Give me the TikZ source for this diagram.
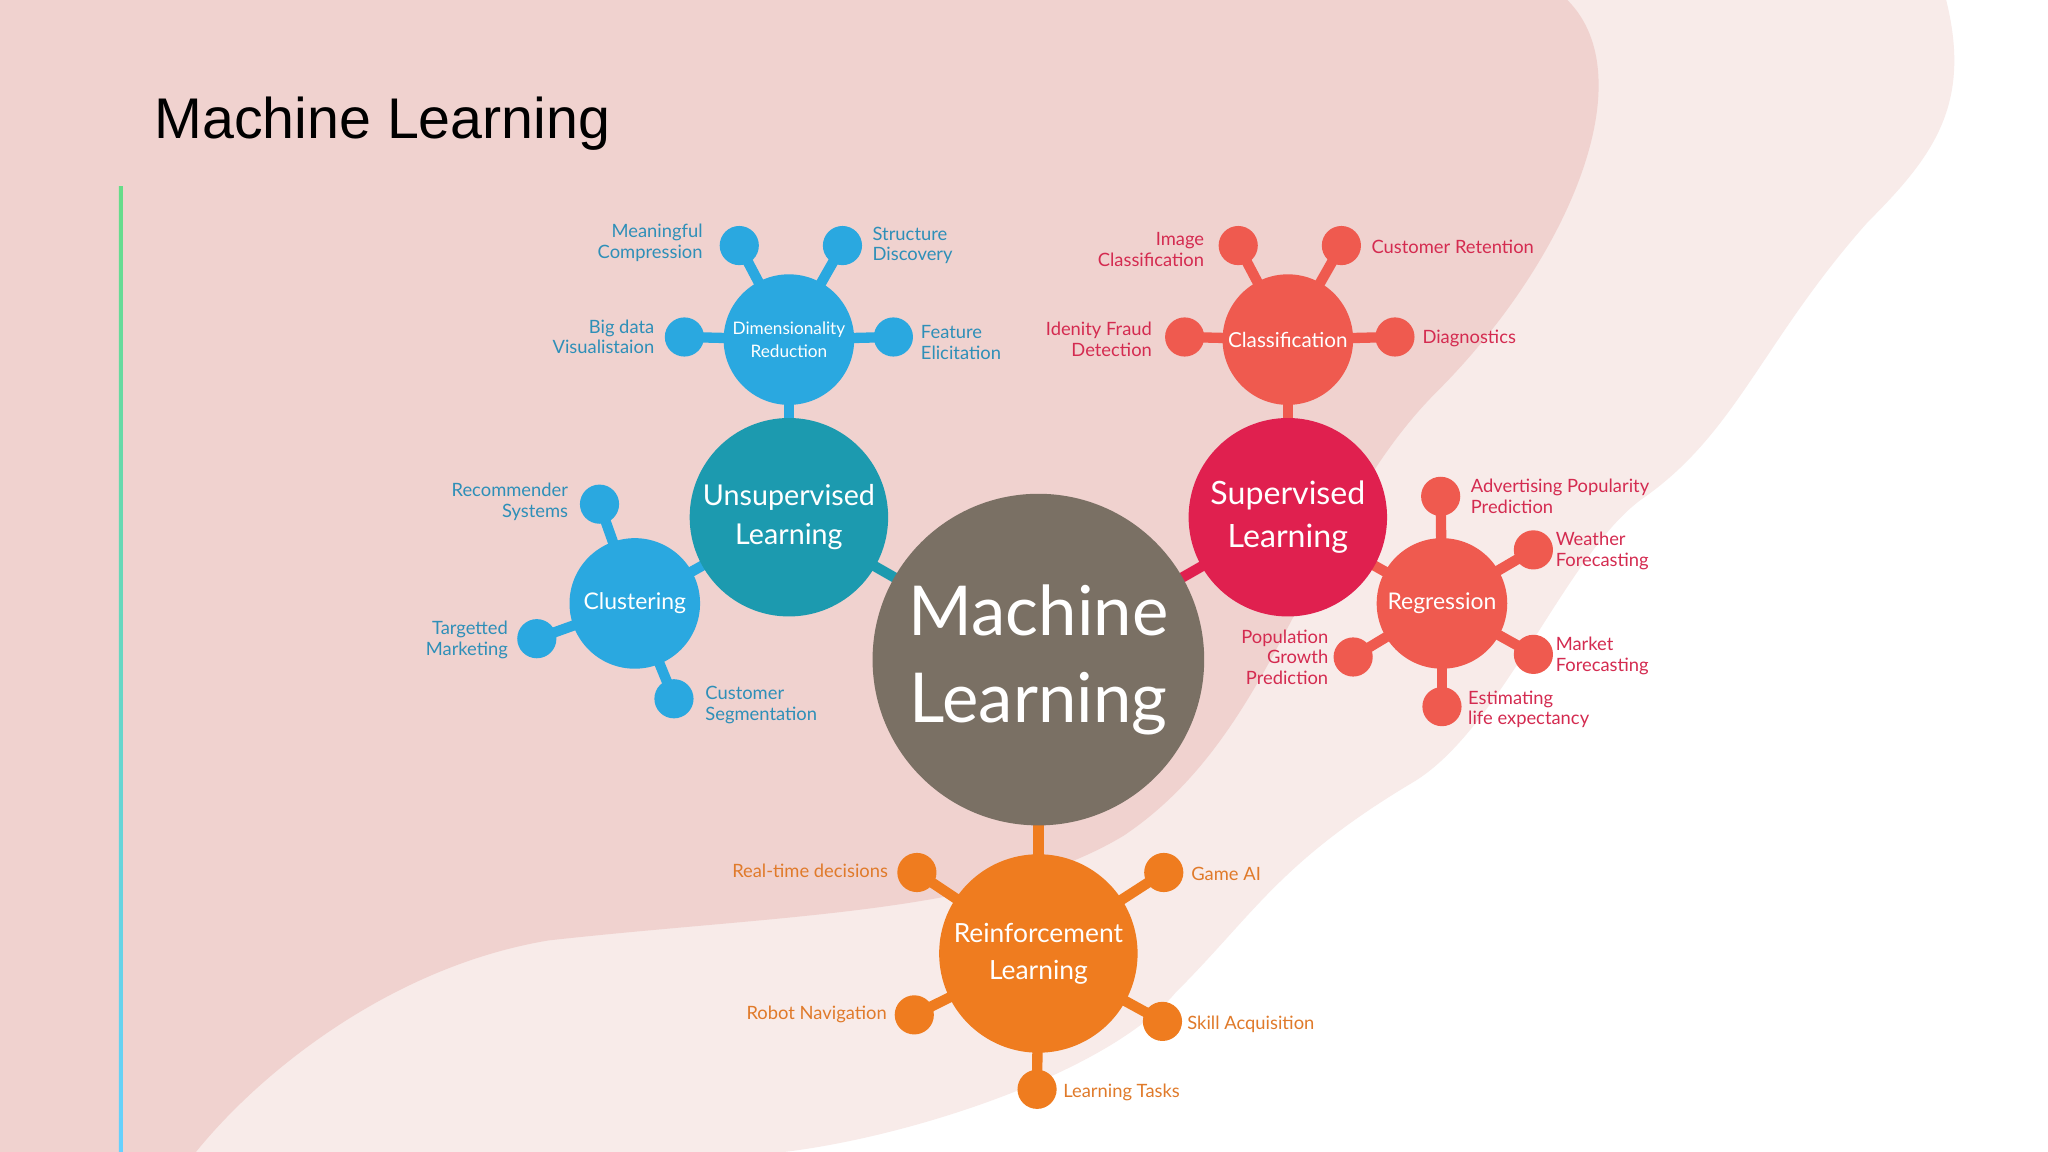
\documentclass[tikz,border=0pt]{standalone}
\usepackage{fontspec}
\setmainfont{Lato}
\newfontfamily\titlefont{Liberation Sans}
\usetikzlibrary{backgrounds}
\definecolor{mlgray}{HTML}{7A7064}
\definecolor{uteal}{HTML}{1C9AAF}
\definecolor{scrim}{HTML}{E0204F}
\definecolor{rorange}{HTML}{EF7C1F}
\definecolor{lblue}{HTML}{2AA8E0}
\definecolor{coral}{HTML}{EF5A4F}
\definecolor{bgpink}{HTML}{F0D2CF}
\definecolor{tblue}{HTML}{2E8FB8}
\definecolor{tred}{HTML}{D42B50}
\definecolor{torange}{HTML}{E07A2A}
\begin{document}
\begin{tikzpicture}[x=0.02cm,y=-0.02cm,
 bub/.style={circle,inner sep=0pt,minimum size=#1*0.04cm,text=white,align=center},
 leaf/.style={circle,fill=#1,inner sep=0pt,minimum size=0.6cm},
 lab/.style={font=\fontsize{8}{9}\selectfont,align=#1,inner sep=1pt},
 con/.style={line width=4.5pt,draw=#1}]
\useasboundingbox (0,0) rectangle (1568,882);
\begin{scope}[on background layer]
\fill[white] (0,0) rectangle (1568,882);
\fill[bgpink!45] (0,0) -- (1490,0) .. controls (1510,80) and (1480,120) .. (1430,170)
 .. controls (1350,260) and (1330,330) .. (1260,380) .. controls (1200,420) and (1150,560) .. (1080,600)
 .. controls (980,660) and (960,700) .. (900,760) .. controls (850,820) and (700,870) .. (600,882) -- (0,882) -- cycle;
\fill[bgpink] (0,0) -- (1200,0) .. controls (1260,60) and (1200,200) .. (1100,300)
 .. controls (1000,400) and (980,560) .. (860,640) .. controls (760,700) and (600,700) .. (420,720)
 .. controls (300,740) and (200,820) .. (150,882) -- (0,882) -- cycle;
\shade[top color=teal!45!green!60, bottom color=blue!30!cyan!60] (91,143) rectangle (94,882);
\end{scope}
\node[anchor=west,font=\titlefont\fontsize{25}{28}\selectfont] (title) at (112,95) {Machine Learning};

\node[bub=127,fill=mlgray,font=\fontsize{30}{38}\selectfont] (ml) at (795,505) {Machine\\Learning};
\node[bub=76,fill=uteal,font=\fontsize{12.5}{17}\selectfont] (un) at (604,396) {Unsupervised\\Learning};
\node[bub=76,fill=scrim,font=\fontsize{14}{19}\selectfont] (su) at (986,396) {Supervised\\Learning};
\node[bub=76,fill=rorange,font=\fontsize{11.5}{16}\selectfont] (re) at (795,730) {Reinforcement\\Learning};
\node[bub=50,fill=lblue,font=\fontsize{7.5}{10}\selectfont] (dr) at (604,260) {Dimensionality\\Reduction};
\node[bub=50,fill=lblue,font=\fontsize{10}{12}\selectfont] (cl) at (486,462) {Clustering};
\node[bub=50,fill=coral,font=\fontsize{9}{12}\selectfont] (cf) at (986,260) {Classification};
\node[bub=50,fill=coral,font=\fontsize{10}{12}\selectfont] (rg) at (1104,462) {Regression};

\node[leaf=lblue] (d1) at (566,188) {};
\node[leaf=lblue] (d2) at (645,188) {};
\node[leaf=lblue] (d3) at (524,258) {};
\node[leaf=lblue] (d4) at (684,258) {};
\node[leaf=lblue] (c1) at (459,386) {};
\node[leaf=lblue] (c2) at (411,489) {};
\node[leaf=lblue] (c3) at (516,535) {};
\node[leaf=coral] (k1) at (948,188) {};
\node[leaf=coral] (k2) at (1027,188) {};
\node[leaf=coral] (k3) at (907,258) {};
\node[leaf=coral] (k4) at (1068,258) {};
\node[leaf=coral] (r1) at (1103,380) {};
\node[leaf=coral] (r2) at (1174,421) {};
\node[leaf=coral] (r3) at (1036,503) {};
\node[leaf=coral] (r4) at (1174,501) {};
\node[leaf=coral] (r5) at (1104,541) {};
\node[leaf=rorange] (o1) at (702,668) {};
\node[leaf=rorange] (o2) at (891,668) {};
\node[leaf=rorange] (o3) at (700,777) {};
\node[leaf=rorange] (o4) at (890,782) {};
\node[leaf=rorange] (o5) at (794,834) {};

\begin{scope}[on background layer]
\draw[con=uteal] (ml.center) -- (un.center);
\draw[con=scrim] (ml.center) -- (su.center);
\draw[con=rorange] (ml.center) -- (re.center);
\draw[con=lblue] (un.center) -- (dr.center);
\draw[con=lblue] (un.center) -- (cl.center);
\draw[con=coral] (su.center) -- (cf.center);
\draw[con=coral] (su.center) -- (rg.center);
\foreach \l in {d1,d2,d3,d4} \draw[con=lblue] (dr.center) -- (\l.center);
\foreach \l in {c1,c2,c3} \draw[con=lblue] (cl.center) -- (\l.center);
\foreach \l in {k1,k2,k3,k4} \draw[con=coral] (cf.center) -- (\l.center);
\foreach \l in {r1,r2,r3,r4,r5} \draw[con=coral] (rg.center) -- (\l.center);
\foreach \l in {o1,o2,o3,o4,o5} \draw[con=rorange] (re.center) -- (\l.center);
\end{scope}

\begin{scope}[text=tblue]
\node[lab=right,anchor=east] (t1) at (540,186) {Meaningful\\Compression};
\node[lab=left,anchor=west] (t2) at (666,188) {Structure\\Discovery};
\node[lab=right,anchor=east] (t3) at (503,258) {Big data\\Visualistaion};
\node[lab=left,anchor=west] (t4) at (703,262) {Feature\\Elicitation};
\node[lab=right,anchor=east] (t5) at (437,384) {Recommender\\Systems};
\node[lab=right,anchor=east] (t6) at (391,490) {Targetted\\Marketing};
\node[lab=left,anchor=west] (t7) at (538,540) {Customer\\Segmentation};
\end{scope}
\begin{scope}[text=tred]
\node[lab=right,anchor=east] (u1) at (924,191) {Image\\Classification};
\node[lab=left,anchor=west] (u2) at (1048,189) {Customer Retention};
\node[lab=right,anchor=east] (u3) at (884,260) {Idenity Fraud\\Detection};
\node[lab=left,anchor=west] (u4) at (1087,259) {Diagnostics};
\node[lab=left,anchor=west] (u5) at (1124,380) {Advertising Popularity\\Prediction};
\node[lab=left,anchor=west] (u6) at (1189,422) {Weather\\Forecasting};
\node[lab=right,anchor=east] (u7) at (1019,503) {Population\\Growth\\Prediction};
\node[lab=left,anchor=west] (u8) at (1189,502) {Market\\Forecasting};
\node[lab=left,anchor=west] (u9) at (1122,543) {Estimating\\life expectancy};
\end{scope}
\begin{scope}[text=torange]
\node[lab=right,anchor=east] (v1) at (682,667) {Real-time decisions};
\node[lab=left,anchor=west] (v2) at (910,669) {Game AI};
\node[lab=right,anchor=east] (v3) at (681,777) {Robot Navigation};
\node[lab=left,anchor=west] (v4) at (907,784) {Skill Acquisition};
\node[lab=left,anchor=west] (v5) at (812,836) {Learning Tasks};
\end{scope}
\end{tikzpicture}
\end{document}
